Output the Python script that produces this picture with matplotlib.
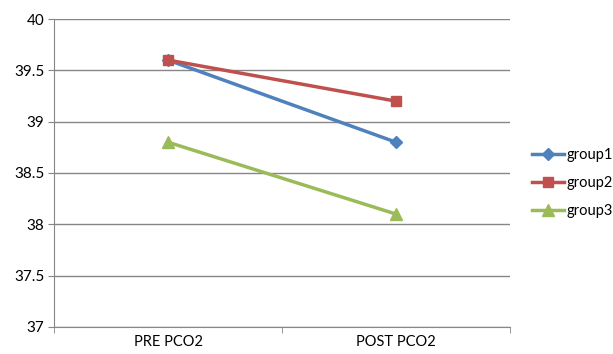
import matplotlib.pyplot as plt
import numpy as np

plt.rcParams['font.family'] = ['Lato', 'DejaVu Sans']

# Data
categories = ['PRE PCO2', 'POST PCO2']
group1 = [39.6, 38.8]
group2 = [39.6, 39.2]
group3 = [38.8, 38.1]

x = np.arange(len(categories))
grid_col = '#868686'

fig = plt.figure(figsize=(6.13, 3.54), dpi=100)
ax = fig.add_axes([54 / 613, 1 - 327 / 354, 456 / 613, 308 / 354])

ax.plot(x, group1, color='#4F81BD', lw=2.5, marker='D', ms=6, label='group1', zorder=3)
ax.plot(x, group2, color='#C0504D', lw=2.5, marker='s', ms=7, label='group2', zorder=3)
ax.plot(x, group3, color='#9BBB59', lw=2.5, marker='^', ms=8, label='group3', zorder=3)

ax.set_xlim(-0.5, 1.5)
ax.set_ylim(37, 40)
ax.set_yticks(np.arange(37, 40.01, 0.5))
ax.set_yticklabels(['37', '37.5', '38', '38.5', '39', '39.5', '40'])
ax.set_xticks(x)
ax.set_xticklabels(categories)
ax.set_xticks([-0.5, 0.5, 1.5], minor=True)
ax.tick_params(axis='x', which='major', length=0, pad=6, labelsize=10.5)
ax.tick_params(axis='x', which='minor', length=4, color=grid_col)
ax.tick_params(axis='y', length=4, color=grid_col, labelsize=11, pad=3)

ax.grid(axis='y', color=grid_col, lw=1)
ax.set_axisbelow(True)
for side in ['top', 'right']:
    ax.spines[side].set_visible(False)
for side in ['left', 'bottom']:
    ax.spines[side].set_color(grid_col)

ax.legend(loc='center left', bbox_to_anchor=(1.02, 0.467), frameon=False,
          fontsize=10.5, handlelength=2.2, handletextpad=0.15, labelspacing=0.97)

fig.savefig('out.png', dpi=100)
